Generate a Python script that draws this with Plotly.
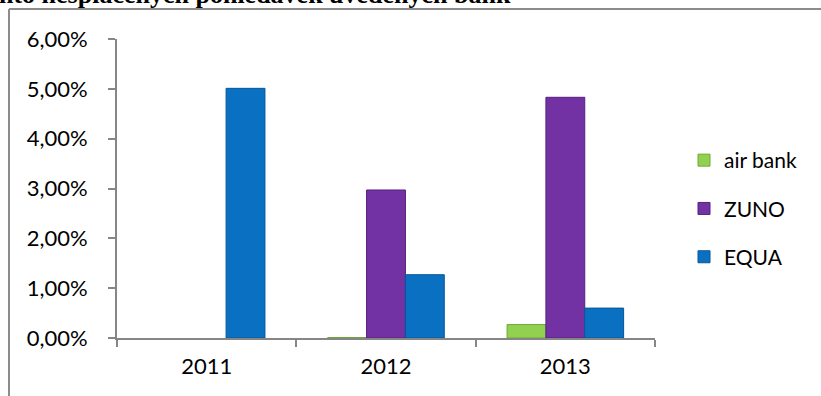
import plotly.graph_objects as go

years = ["2011", "2012", "2013"]
air_bank = [None, 0.0001, 0.0027]
zuno = [None, 0.0297, 0.0483]
equa = [0.0501, 0.0127, 0.0060]

series_names = ["air bank", "ZUNO", "EQUA"]
series_colors = ["#92D050", "#7332A3", "#0A70C2"]
series_lines = ["#6FA83A", "#55207E", "#05579A"]

W, H = 821, 396
L, R, T, B = 117, 655, 39, 338

fig = go.Figure()
for name, vals, col, lc in zip(series_names, [air_bank, zuno, equa], series_colors, series_lines):
    fig.add_trace(go.Bar(
        x=years, y=vals, name=name, legendgroup=name,
        marker=dict(color=col, line=dict(color=lc, width=1)),
    ))

def px_x(p):
    return (p - L) / (R - L)

def px_y(p):
    return (B - p) / (B - T)

font = "Lato, 'Open Sans', sans-serif"
axis_col = "#868686"

fig.update_layout(
    width=W, height=H,
    margin=dict(l=L, r=W - R, t=T, b=H - B, pad=0),
    paper_bgcolor="white", plot_bgcolor="white",
    barmode="group", bargap=0.35, bargroupgap=0,
    separators=", ",
    font=dict(family=font, size=22, color="#000000"),
    showlegend=True,
    legend=dict(
        x=px_x(684), y=px_y(140), xanchor="left", yanchor="top",
        font=dict(family=font, size=21, color="#000000"),
        tracegroupgap=18, itemwidth=30, bgcolor="rgba(0,0,0,0)",
    ),
    xaxis=dict(
        showline=True, linecolor=axis_col, linewidth=2,
        ticks="outside", tickson="boundaries", ticklen=7, tickcolor=axis_col, tickwidth=2,
        showgrid=False, ticklabelstandoff=8,
        tickfont=dict(family=font, size=22, color="#000000"),
    ),
    yaxis=dict(
        range=[0, 0.06], dtick=0.01, tickformat=".2%",
        showline=True, linecolor=axis_col, linewidth=2,
        ticks="outside", ticklen=7, tickcolor=axis_col, tickwidth=2,
        showgrid=False, zeroline=False, ticklabelstandoff=16,
        tickfont=dict(family=font, size=22, color="#000000"),
    ),
    shapes=[
        dict(type="line", xref="paper", yref="paper",
             x0=px_x(9), x1=px_x(9), y0=px_y(9), y1=px_y(420),
             line=dict(color="#8C8C8C", width=2)),
        dict(type="line", xref="paper", yref="paper",
             x0=px_x(9), x1=px_x(840), y0=px_y(9), y1=px_y(9),
             line=dict(color="#8C8C8C", width=2)),
    ],
    annotations=[
        dict(text="<b>nto nesplacených pohledávek uvedených bank</b>",
             xref="paper", yref="paper", x=px_x(-3), y=px_y(11),
             xanchor="left", yanchor="bottom", showarrow=False,
             font=dict(family="Liberation Serif, Times New Roman, serif", size=26, color="#000000")),
    ],
)

fig.write_html("out.html")
